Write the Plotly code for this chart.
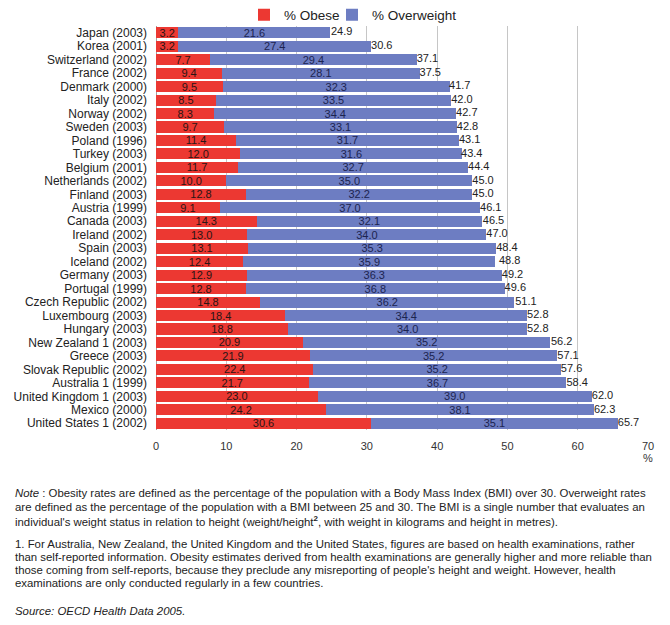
import plotly.graph_objects as go

countries = [
    "Japan (2003)", "Korea (2001)", "Switzerland (2002)", "France (2002)",
    "Denmark (2000)", "Italy (2002)", "Norway (2002)", "Sweden (2003)",
    "Poland (1996)", "Turkey (2003)", "Belgium (2001)", "Netherlands (2002)",
    "Finland (2003)", "Austria (1999)", "Canada (2003)", "Ireland (2002)",
    "Spain (2003)", "Iceland (2002)", "Germany (2003)", "Portugal (1999)",
    "Czech Republic (2002)", "Luxembourg (2003)", "Hungary (2003)",
    "New Zealand 1 (2003)", "Greece (2003)", "Slovak Republic (2002)",
    "Australia 1 (1999)", "United Kingdom 1 (2003)", "Mexico (2000)",
    "United States 1 (2002)",
]
obese = [3.2, 3.2, 7.7, 9.4, 9.5, 8.5, 8.3, 9.7, 11.4, 12.0, 11.7, 10.0, 12.8, 9.1,
         14.3, 13.0, 13.1, 12.4, 12.9, 12.8, 14.8, 18.4, 18.8, 20.9, 21.9, 22.4,
         21.7, 23.0, 24.2, 30.6]
overweight = [21.6, 27.4, 29.4, 28.1, 32.3, 33.5, 34.4, 33.1, 31.7, 31.6, 32.7, 35.0,
              32.2, 37.0, 32.1, 34.0, 35.3, 35.9, 36.3, 36.8, 36.2, 34.4, 34.0, 35.2,
              35.2, 35.2, 36.7, 39.0, 38.1, 35.1]
total = [24.9, 30.6, 37.1, 37.5, 41.7, 42.0, 42.7, 42.8, 43.1, 43.4, 44.4, 45.0, 45.0,
         46.1, 46.5, 47.0, 48.4, 48.8, 49.2, 49.6, 51.1, 52.8, 52.8, 56.2, 57.1, 57.6,
         58.4, 62.0, 62.3, 65.7]

notes = [
    "<i>Note</i> : Obesity rates are defined as the percentage of the population with a Body Mass Index (BMI) over 30. Overweight rates",
    "are defined as the percentage of the population with a BMI between 25 and 30. The BMI is a single number that evaluates an",
    "individual's weight status in relation to height (weight/height<sup><b>2</b></sup>, with weight in kilograms and height in metres).",
    "1. For Australia, New Zealand, the United Kingdom and the United States, figures are based on health examinations, rather",
    "than self-reported information. Obesity estimates derived from health examinations are generally higher and more reliable than",
    "those coming from self-reports, because they preclude any misreporting of people's height and weight. However, health",
    "examinations are only conducted regularly in a few countries.",
    "<i>Source: OECD Health Data 2005.</i>",
]
note_px = [493, 507, 521, 544, 557, 570, 583, 611]

FONT = "Liberation Sans, Arial, sans-serif"
# the page body has an 8px margin, so the figure is drawn 8px in from the corner
OFF = 8
W, H = 670 - OFF, 625 - OFF
L, R, T = 156 - OFF, 22, 26 - OFF
B = H - (430 - OFF)
plot_h = H - T - B
plot_w = W - L - R


def py(px):
    # page pixel row -> paper y
    return (H - B - (px - OFF)) / plot_h


def pxx(px):
    return (px - OFF - L) / plot_w


fig = go.Figure()
fig.add_trace(go.Bar(
    y=countries, x=obese, orientation="h", name="% Obese", legend="legend",
    marker=dict(color="#EC3832", line=dict(width=0)),
    text=[f"{v:.1f}" for v in obese], textposition="inside",
    insidetextanchor="middle", textangle=0, constraintext="none",
    textfont=dict(color="#2a1515", size=11, family=FONT),
))
fig.add_trace(go.Bar(
    y=countries, x=overweight, orientation="h", name="% Overweight", legend="legend2",
    marker=dict(color="#6D7DC2", line=dict(width=0)),
    text=[f"{v:.1f}" for v in overweight], textposition="inside",
    insidetextanchor="middle", textangle=0, constraintext="none",
    textfont=dict(color="#1c2450", size=11, family=FONT),
))
fig.add_trace(go.Scatter(
    y=countries, x=total, mode="text", showlegend=False,
    text=[f"{v:.1f}" for v in total], textposition="middle right",
    textfont=dict(color="#222", size=11, family=FONT), cliponaxis=False,
    hoverinfo="skip",
))

annotations = [dict(
    text="%", x=70, xref="x", y=py(458), yref="paper", showarrow=False,
    xanchor="center", yanchor="middle", font=dict(size=11, color="#333", family=FONT),
)]
for line, ypix in zip(notes, note_px):
    annotations.append(dict(
        text=line, x=pxx(13), xref="paper", y=py(ypix), yref="paper",
        showarrow=False, xanchor="left", yanchor="middle", align="left",
        font=dict(size=11.4, color="#222", family=FONT),
    ))

legend_style = dict(
    orientation="h", xanchor="left", y=py(15), yanchor="middle",
    font=dict(size=13.5, color="#222", family=FONT),
    itemwidth=30, bgcolor="rgba(0,0,0,0)",
)

fig.update_layout(
    width=W, height=H,
    margin=dict(l=L, r=R, t=T, b=B, autoexpand=False),
    barmode="stack", bargap=0.18,
    plot_bgcolor="white", paper_bgcolor="white",
    font=dict(family=FONT, color="#222"),
    showlegend=True,
    legend=dict(x=pxx(244), **legend_style),
    legend2=dict(x=pxx(332), **legend_style),
    annotations=annotations,
)
fig.update_xaxes(
    range=[0, 70], dtick=10, showgrid=True, gridcolor="#c6c6c6", gridwidth=1,
    zeroline=True, zerolinecolor="#a0a0a0", zerolinewidth=1,
    tickfont=dict(size=11, color="#333", family=FONT),
    ticks="", ticklabelstandoff=8, showline=False,
)
fig.update_yaxes(
    type="category", autorange=False, range=[len(countries) - 0.5, -0.5],
    showgrid=False, tickmode="array", tickvals=countries,
    tickfont=dict(size=12, color="#222", family=FONT),
    ticks="", ticklabelstandoff=8, showline=False,
)

fig.write_html("out.html")
